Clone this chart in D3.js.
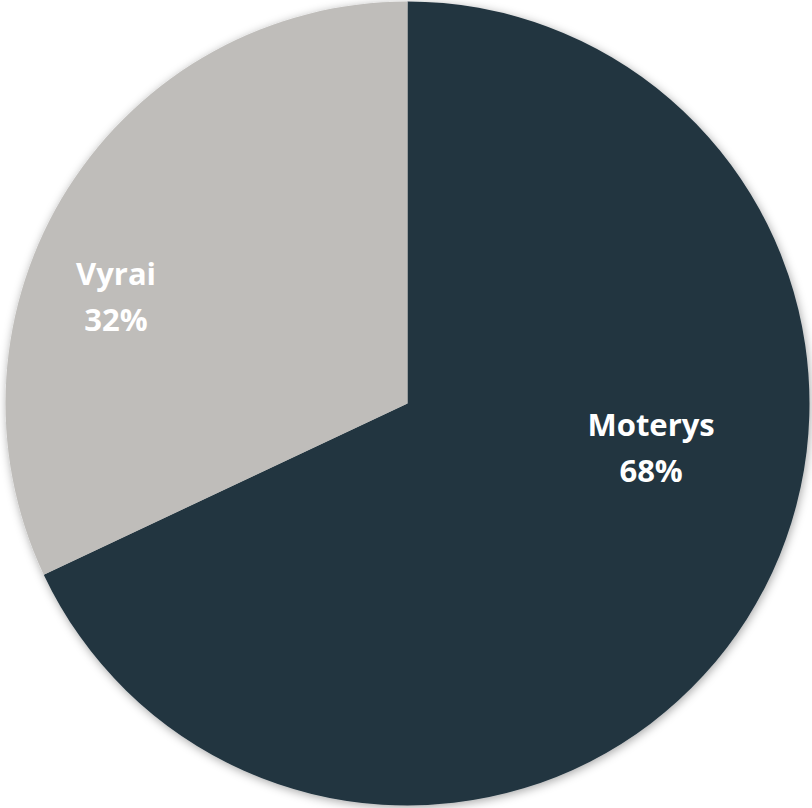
<!DOCTYPE html>
<html><head><meta charset="utf-8">
<script src="https://cdn.jsdelivr.net/npm/d3@7"></script>
<style>html,body{margin:0;padding:0;background:#fff;}svg{display:block;}</style>
</head><body>
<script>
const categories = ["Moterys", "Vyrai"];
const values = [68, 32];
const colors = ["#223540", "#bfbdba"];

const W = 812, H = 808;
const cx = 407.5, cy = 403.5, R = 402;
const svg = d3.select("body").append("svg").attr("width", W).attr("height", H);
const defs = svg.append("defs");
const f = defs.append("filter").attr("id","sh").attr("x","-10%").attr("y","-10%").attr("width","120%").attr("height","120%");
f.append("feDropShadow").attr("dx",1).attr("dy",2).attr("stdDeviation",5).attr("flood-color","#000").attr("flood-opacity",0.35);

const pie = d3.pie().sort(null).value(d => d)(values);
const arc = d3.arc().innerRadius(0).outerRadius(R);
const g = svg.append("g").attr("transform", `translate(${cx},${cy})`);
g.append("g").attr("filter","url(#sh)").selectAll("path").data(pie).join("path")
  .attr("d", arc).attr("fill", (d,i) => colors[i]);

// label placement relative to radius (Excel-like)
const labelOffsets = [[0.606, 0.11], [-0.725, -0.265]];
const lg = g.selectAll("g.lab").data(pie).join("g").attr("class","lab")
  .attr("transform", (d,i) => `translate(${labelOffsets[i][0]*R},${labelOffsets[i][1]*R})`);
lg.append("text").attr("text-anchor","middle").attr("y", -12)
  .style("font-family","'Open Sans', sans-serif").style("font-weight","bold").style("font-size","31px").attr("fill","#fff")
  .text((d,i) => categories[i]);
lg.append("text").attr("text-anchor","middle").attr("y", 34)
  .style("font-family","'Open Sans', sans-serif").style("font-weight","bold").style("font-size","31px").attr("fill","#fff")
  .text((d,i) => Math.round(d.data) + "%");
</script>
</body></html>
